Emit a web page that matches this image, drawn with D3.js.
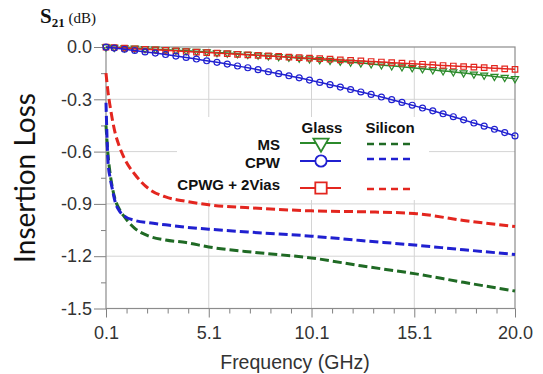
<!DOCTYPE html>
<html>
<head>
<meta charset="utf-8">
<script src="https://cdn.jsdelivr.net/npm/d3@7/dist/d3.min.js"></script>
<style>
body { margin: 0; background: #fff; }
svg { display: block; }
</style>
</head>
<body>
<div id="chart"></div>
<script>
// Glass lines: solid, one marker per sample
const glassFreq = [0.1, 0.5, 1.0, 1.5, 2.0, 2.5, 3.0, 3.5, 4.0, 4.5, 5.0, 5.5, 6.0, 6.5, 7.0, 7.5, 8.0, 8.5, 9.0, 9.5,
    10.0, 10.5, 11.0, 11.5, 12.0, 12.5, 13.0, 13.5, 14.0, 14.5, 15.0, 15.5, 16.0, 16.5, 17.0, 17.5, 18.0, 18.5, 19.0, 19.5, 20.0];
const glassMS = [0.000, -0.002, -0.005, -0.007, -0.010, -0.013, -0.016, -0.019, -0.022, -0.025, -0.028, -0.032, -0.035, -0.039, -0.043, -0.047, -0.051, -0.055, -0.059, -0.064,
    -0.068, -0.073, -0.077, -0.082, -0.087, -0.092, -0.097, -0.103, -0.108, -0.114, -0.119, -0.125, -0.131, -0.137, -0.143, -0.149, -0.156, -0.162, -0.169, -0.175, -0.182];
const glassCPW = [-0.001, -0.006, -0.013, -0.020, -0.028, -0.035, -0.043, -0.052, -0.060, -0.069, -0.079, -0.088, -0.098, -0.109, -0.119, -0.130, -0.142, -0.153, -0.165, -0.177,
    -0.190, -0.203, -0.216, -0.230, -0.244, -0.258, -0.272, -0.287, -0.302, -0.318, -0.334, -0.350, -0.366, -0.383, -0.400, -0.418, -0.436, -0.454, -0.472, -0.491, -0.510];
const glassCPWG = [-0.001, -0.003, -0.006, -0.010, -0.013, -0.016, -0.019, -0.022, -0.026, -0.029, -0.032, -0.035, -0.038, -0.042, -0.045, -0.048, -0.051, -0.054, -0.058, -0.061,
    -0.064, -0.067, -0.070, -0.074, -0.077, -0.080, -0.083, -0.086, -0.090, -0.093, -0.096, -0.099, -0.102, -0.106, -0.109, -0.112, -0.115, -0.118, -0.122, -0.125, -0.128];

// Silicon lines: dashed
const siliconFreq = [0.1, 0.2, 0.3, 0.4, 0.55, 0.75, 1.0, 1.5, 2.2, 3.0, 4.0, 5.1, 7.5, 10.1, 12.5, 15.1, 17.5, 20.0];
const siliconMS = [-0.45, -0.62, -0.725, -0.80, -0.877, -0.93, -0.975, -1.04, -1.085, -1.107, -1.122, -1.147, -1.18, -1.21, -1.255, -1.30, -1.35, -1.40];
const siliconCPW = [-0.32, -0.66, -0.75, -0.81, -0.89, -0.94, -0.97, -0.995, -1.008, -1.02, -1.034, -1.045, -1.065, -1.085, -1.11, -1.136, -1.163, -1.19];
const siliconCPWG = [-0.15, -0.26, -0.34, -0.41, -0.495, -0.57, -0.64, -0.73, -0.815, -0.86, -0.885, -0.905, -0.925, -0.94, -0.945, -0.955, -0.995, -1.03];

const xTicks = [0.1, 5.1, 10.1, 15.1, 20.0];
const xMinorTicks = [1.1, 2.1, 3.1, 4.1, 6.1, 7.1, 8.1, 9.1, 11.1, 12.1, 13.1, 14.1, 16.1, 17.1, 18.1, 19.1];
const yTicks = [0.0, -0.3, -0.6, -0.9, -1.2, -1.5];
const yMinorTicks = [-0.15, -0.45, -0.75, -1.05, -1.35];
const legendNames = ["MS", "CPW", "CPWG + 2Vias"];

const W = 543, H = 374;
const margin = { top: 47, right: 28, bottom: 65.5, left: 106 },
    width = W - margin.left - margin.right,
    height = H - margin.top - margin.bottom;

const green = "#2b8a2b", greenDark = "#1f6a24",
    blue = "#2020d0", red = "#e3261f";

const svg = d3.select("#chart").append("svg")
    .attr("width", W)
    .attr("height", H);

const g = svg.append("g")
    .attr("transform", `translate(${margin.left},${margin.top})`);

const x = d3.scaleLinear().domain([0.1, 20]).range([0, width]);
const y = d3.scaleLinear().domain([0, -1.5]).range([0, height]);

// Grid
g.selectAll(".vgrid")
    .data(xTicks.slice(1, -1))
    .enter().append("line")
    .attr("x1", d => x(d)).attr("x2", d => x(d))
    .attr("y1", 0).attr("y2", height)
    .attr("stroke", "#d4d4d4").attr("stroke-width", 1);

g.selectAll(".hgrid")
    .data(yTicks.slice(1, -1))
    .enter().append("line")
    .attr("x1", 0).attr("x2", width)
    .attr("y1", d => y(d)).attr("y2", d => y(d))
    .attr("stroke", "#d4d4d4").attr("stroke-width", 1);

// Legend background hides the grid behind it
g.append("rect")
    .attr("x", 71).attr("y", 70)
    .attr("width", 252).attr("height", 83)
    .attr("fill", "#fff");

// Axes
const fmt = d => d.toFixed(1);

const xAxis = g.append("g")
    .attr("transform", `translate(0,${height})`)
    .call(d3.axisBottom(x).tickValues(xTicks).tickFormat(fmt).tickSize(9).tickSizeOuter(0).tickPadding(9));
xAxis.append("g")
    .call(d3.axisBottom(x).tickValues(xMinorTicks).tickFormat("").tickSize(5).tickSizeOuter(0));

const yAxis = g.append("g")
    .call(d3.axisLeft(y).tickValues(yTicks).tickFormat(fmt).tickSize(12).tickSizeOuter(0).tickPadding(2));
yAxis.append("g")
    .call(d3.axisLeft(y).tickValues(yMinorTicks).tickFormat("").tickSize(5).tickSizeOuter(0));

g.selectAll(".domain").remove();
g.selectAll(".tick line").attr("stroke", "#808080");
g.selectAll(".tick text")
    .attr("fill", "#333")
    .attr("font-family", "Liberation Sans, Arial, sans-serif")
    .attr("font-size", "18px");

// Frame
g.append("rect")
    .attr("width", width).attr("height", height)
    .attr("fill", "none")
    .attr("stroke", "#8c8c8c").attr("stroke-width", 1.2);

// Curves
const line = d3.line()
    .x(d => x(d[0]))
    .y(d => y(d[1]))
    .curve(d3.curveMonotoneX);

const silicon = [
    { values: siliconMS, color: greenDark },
    { values: siliconCPW, color: blue },
    { values: siliconCPWG, color: red }
];
silicon.forEach(s => {
    g.append("path")
        .datum(siliconFreq.map((f, i) => [f, s.values[i]]))
        .attr("d", line)
        .attr("fill", "none")
        .attr("stroke", s.color)
        .attr("stroke-width", 3)
        .attr("stroke-dasharray", "9,4");
});

const glass = [
    { values: glassMS, color: green, symbol: d3.symbolTriangle, rotate: 180, size: 22 },
    { values: glassCPWG, color: red, symbol: d3.symbolSquare, rotate: 0, size: 30 },
    { values: glassCPW, color: blue, symbol: d3.symbolCircle, rotate: 0, size: 28 }
];
glass.forEach(s => {
    const pts = glassFreq.map((f, i) => [f, s.values[i]]);
    g.append("path")
        .datum(pts)
        .attr("d", line)
        .attr("fill", "none")
        .attr("stroke", s.color)
        .attr("stroke-width", 1.5);
    g.selectAll(null)
        .data(pts)
        .enter().append("path")
        .attr("d", d3.symbol().type(s.symbol).size(s.size))
        .attr("transform", d => `translate(${x(d[0])},${y(d[1])}) rotate(${s.rotate})`)
        .attr("fill", "none")
        .attr("stroke", s.color)
        .attr("stroke-width", 1.2);
});

// Legend
const legend = svg.append("g")
    .attr("font-family", "Liberation Sans, Arial, sans-serif")
    .attr("font-weight", "bold")
    .attr("font-size", "15px")
    .attr("fill", "#111");

legend.append("text").attr("x", 322).attr("y", 133).attr("text-anchor", "middle").text("Glass");
legend.append("text").attr("x", 390).attr("y", 133).attr("text-anchor", "middle").text("Silicon");

const rowY = [143, 161, 188];
const textY = [150, 168, 190];
const legendItems = [
    { color: green, dash: greenDark, symbol: d3.symbolTriangle, rotate: 180, size: 100 },
    { color: blue, dash: blue, symbol: d3.symbolCircle, rotate: 0, size: 100 },
    { color: red, dash: red, symbol: d3.symbolSquare, rotate: 0, size: 130 }
];
legendNames.forEach((name, i) => {
    const it = legendItems[i];
    legend.append("text")
        .attr("x", 280).attr("y", textY[i])
        .attr("text-anchor", "end")
        .text(name);
    legend.append("line")
        .attr("x1", 300).attr("x2", 341)
        .attr("y1", rowY[i]).attr("y2", rowY[i])
        .attr("stroke", it.color).attr("stroke-width", 2);
    legend.append("path")
        .attr("d", d3.symbol().type(it.symbol).size(it.size))
        .attr("transform", `translate(321,${rowY[i]}) rotate(${it.rotate})`)
        .attr("fill", "#fff")
        .attr("stroke", it.color).attr("stroke-width", 1.8);
    legend.append("line")
        .attr("x1", 367).attr("x2", 413)
        .attr("y1", rowY[i] + (i === 1 ? -2 : 1)).attr("y2", rowY[i] + (i === 1 ? -2 : 1))
        .attr("stroke", it.dash).attr("stroke-width", 2.5)
        .attr("stroke-dasharray", "7,5");
});

// Titles
const s21 = svg.append("text")
    .attr("x", 40).attr("y", 23)
    .attr("font-family", "Liberation Serif, Times New Roman, serif")
    .attr("fill", "#111");
s21.append("tspan").attr("font-weight", "bold").attr("font-size", "21px").text("S");
s21.append("tspan").attr("font-weight", "bold").attr("font-size", "13px").attr("dy", 4).text("21");
s21.append("tspan").attr("font-size", "15px").attr("dy", -4).text(" (dB)");

svg.append("text")
    .attr("transform", "translate(35,178) rotate(-90)")
    .attr("text-anchor", "middle")
    .attr("font-family", "Lato, sans-serif")
    .attr("font-size", "28px")
    .attr("fill", "#111")
    .text("Insertion Loss");

svg.append("text")
    .attr("x", 295).attr("y", 369)
    .attr("text-anchor", "middle")
    .attr("font-family", "Liberation Sans, Arial, sans-serif")
    .attr("font-size", "19.5px")
    .attr("fill", "#333")
    .text("Frequency (GHz)");
</script>
</body>
</html>
